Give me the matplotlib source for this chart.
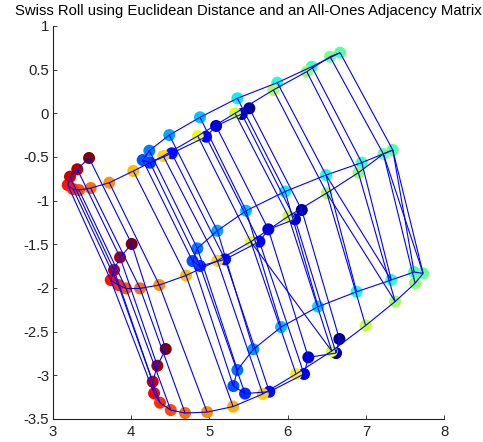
import numpy as np
import matplotlib
matplotlib.use('Agg')
import matplotlib.pyplot as plt
from matplotlib.collections import LineCollection

plt.rcParams['font.family'] = ['Liberation Sans', 'DejaVu Sans']
plt.rcParams['axes.unicode_minus'] = False

title = "Swiss Roll using Euclidean Distance and an All-Ones Adjacency Matrix"
x_ticks = [3, 4, 5, 6, 7, 8]
y_ticks = [-3.5, -3, -2.5, -2, -1.5, -1, -0.5, 0, 0.5, 1]
x_ticklabels = ["3", "4", "5", "6", "7", "8"]
y_ticklabels = ["-3.5", "-3", "-2.5", "-2", "-1.5", "-1", "-0.5", "0", "0.5", "1"]

# top layer (ordered along the roll)
top_x = [5.511, 5.414, 5.086, 4.958, 4.520, 4.243, 4.149, 4.234, 4.489, 4.881,
         5.358, 5.868, 6.308, 6.669, 6.541, 6.244, 5.817, 5.328, 4.852, 4.412,
         4.029, 3.723, 3.485, 3.336, 3.259, 3.192, 3.221, 3.314, 3.464]
top_y = [0.057, -0.008, -0.145, -0.268, -0.458, -0.566, -0.535, -0.428, -0.249, -0.046,
         0.172, 0.351, 0.534, 0.694, 0.648, 0.477, 0.267, 0.000, -0.260, -0.489,
         -0.661, -0.795, -0.856, -0.879, -0.867, -0.821, -0.726, -0.641, -0.512]
top_t = [0.00, 0.04, 0.07, 0.11, 0.14, 0.18, 0.21, 0.25, 0.29, 0.32,
         0.36, 0.39, 0.43, 0.46, 0.50, 0.54, 0.57, 0.61, 0.64, 0.68,
         0.71, 0.75, 0.79, 0.82, 0.86, 0.89, 0.93, 0.96, 1.00]

# middle layer
mid_x = [6.180, 6.094, 5.753, 5.639, 5.200, 4.881, 4.785, 4.847, 5.102, 5.469,
         5.967, 6.490, 6.946, 7.342, 7.222, 6.903, 6.499, 6.009, 5.529, 5.102,
         4.702, 4.361, 4.115, 3.936, 3.838, 3.741, 3.783, 3.860, 4.009]
mid_y = [-1.108, -1.214, -1.329, -1.470, -1.673, -1.749, -1.692, -1.547, -1.345, -1.116,
         -0.896, -0.707, -0.565, -0.420, -0.466, -0.680, -0.913, -1.179, -1.471, -1.688,
         -1.858, -1.967, -2.005, -2.005, -1.967, -1.910, -1.795, -1.650, -1.497]
mid_t = [0.00, 0.04, 0.07, 0.11, 0.14, 0.18, 0.21, 0.25, 0.29, 0.32,
         0.36, 0.39, 0.43, 0.46, 0.50, 0.54, 0.57, 0.61, 0.64, 0.68,
         0.71, 0.75, 0.79, 0.82, 0.86, 0.89, 0.93, 0.96, 1.00]

# bottom layer
bot_x = [6.660, 6.618, 6.264, 6.209, 5.766, 5.456, 5.307, 5.358, 5.562, 5.916,
         6.388, 6.880, 7.323, 7.614, 7.729, 7.627, 7.372, 6.995, 6.563, 6.107,
         5.682, 5.303, 4.971, 4.690, 4.507, 4.370, 4.294, 4.277, 4.336, 4.443]
bot_y = [-2.585, -2.746, -2.795, -2.986, -3.189, -3.210, -3.124, -2.940, -2.703, -2.448,
         -2.215, -2.044, -1.909, -1.818, -1.833, -1.947, -2.156, -2.431, -2.723, -2.986,
         -3.215, -3.359, -3.422, -3.433, -3.399, -3.315, -3.207, -3.074, -2.891, -2.700]
bot_t = [0.00, 0.03, 0.07, 0.10, 0.14, 0.17, 0.21, 0.24, 0.28, 0.31,
         0.34, 0.38, 0.41, 0.45, 0.48, 0.52, 0.55, 0.59, 0.62, 0.66,
         0.69, 0.72, 0.76, 0.79, 0.83, 0.86, 0.90, 0.93, 0.97, 1.00]

layers = [(top_x, top_y, top_t), (mid_x, mid_y, mid_t), (bot_x, bot_y, bot_t)]

fig = plt.figure(figsize=(4.83, 4.42), dpi=100)
ax = fig.add_axes([0.1091, 0.0523, 0.8108, 0.8889])

# markers
for lx, ly, lt in layers:
    ax.scatter(lx, ly, c=lt, cmap='jet', vmin=0, vmax=1, s=75,
               linewidths=0, zorder=2, clip_on=False)

# graph edges
segs = []
for lx, ly, lt in layers:
    for i in range(len(lx) - 1):
        segs.append([(lx[i], ly[i]), (lx[i + 1], ly[i + 1])])
for (ax_, ay_, at_), (bx_, by_, bt_) in zip(layers[:-1], layers[1:]):
    pairs = set()
    for i, tv in enumerate(at_):
        j = int(np.argmin(np.abs(np.array(bt_) - tv)))
        pairs.add((i, j))
    for j, tv in enumerate(bt_):
        i = int(np.argmin(np.abs(np.array(at_) - tv)))
        pairs.add((i, j))
    for i, j in sorted(pairs):
        segs.append([(ax_[i], ay_[i]), (bx_[j], by_[j])])
ax.add_collection(LineCollection(segs, colors=(0, 0, 1), linewidths=0.8, zorder=3))

ax.set_xlim(3, 8)
ax.set_ylim(-3.5, 1)
ax.set_xticks(x_ticks)
ax.set_xticklabels(x_ticklabels)
ax.set_yticks(y_ticks)
ax.set_yticklabels(y_ticklabels)
for side in ['top', 'right']:
    ax.spines[side].set_visible(False)
for side in ['left', 'bottom']:
    ax.spines[side].set_linewidth(0.8)
    ax.spines[side].set_color('#222222')
ax.tick_params(direction='in', length=3, width=0.6, labelsize=10.7, colors='#222222')
ax.tick_params(axis='x', pad=4.5)
ax.tick_params(axis='y', pad=2.5)
ax.set_title(title, fontsize=10.7, pad=8)

fig.savefig('out.png', dpi=100)
